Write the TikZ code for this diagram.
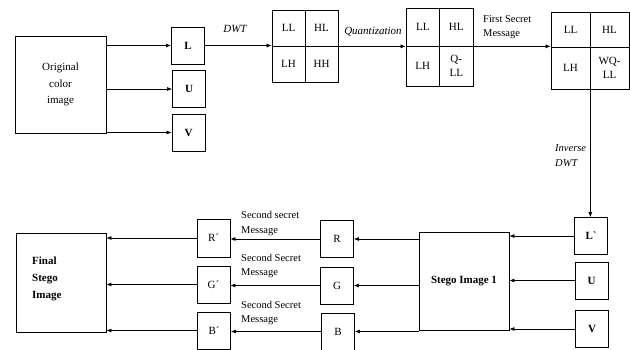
\documentclass[tikz,border=0pt]{standalone}
\usepackage{fontspec}
\setmainfont{Liberation Serif}
\usepackage{tikz}
\usetikzlibrary{positioning,arrows.meta,calc}

\begin{document}
\begin{tikzpicture}[x=1pt, y=-1pt,
  every node/.style={font=\fontsize{11}{16.5}\selectfont},
  box/.style  ={draw, line width=0.9pt, minimum width=#1, inner sep=0pt, align=center},
  chan/.style ={draw, line width=0.9pt, minimum width=33pt, minimum height=37pt,
                inner sep=0pt, font=\fontsize{11}{13}\selectfont\bfseries},
  rgb/.style  ={draw, line width=0.9pt, minimum width=33pt, minimum height=37pt,
                inner sep=0pt},
  cell/.style 2 args={draw, line width=0.7pt, minimum width=#1, minimum height=#2,
                inner sep=0pt, align=center, font=\fontsize{11}{14}\selectfont},
  lbl/.style  ={font=\fontsize{10.5}{14.5}\selectfont, align=left, inner sep=0pt},
  arr/.style  ={-{Latex[length=5pt,width=4pt]}, line width=0.6pt}]

\useasboundingbox (0,0) rectangle (630,350);

%% Top row: source image and its channels
\node[box=91pt, minimum height=97pt] (orig) at (60.5,84.5) {Original\\color\\image};
\node[chan] (Lc) at (188,45.5) {L};
\node[chan] (Uc) at (189,89)   {U};
\node[chan] (Vc) at (188.5,132.5) {V};

%% DWT subbands
\node[cell={33pt}{36pt}] (g1a) at (288.5,28) {LL};
\node[cell={33pt}{36pt}] (g1b) at (321.5,28) {HL};
\node[cell={33pt}{36pt}] (g1c) at (288.5,64) {LH};
\node[cell={33pt}{36pt}] (g1d) at (321.5,64) {HH};

%% Quantized subbands
\node[cell={33.5pt}{38pt}] (g2a) at (422.75,27) {LL};
\node[cell={33.5pt}{38pt}] (g2b) at (456.25,27) {HL};
\node[cell={33.5pt}{40pt}] (g2c) at (422.75,66) {LH};
\node[cell={33.5pt}{40pt}] (g2d) at (456.25,66) {Q-\\LL};

%% Watermarked subbands
\node[cell={39pt}{35pt}] (g3a) at (570.5,29.5) {LL};
\node[cell={39pt}{35pt}] (g3b) at (609.5,29.5) {HL};
\node[cell={39pt}{42pt}] (g3c) at (570.5,68)   {LH};
\node[cell={39pt}{42pt}] (g3d) at (609.5,68)   {WQ-\\LL};

%% Labels along the top
\node[lbl, font=\fontsize{11}{14}\selectfont\itshape] (dwt)  at (235,29) {DWT};
\node[lbl, font=\fontsize{11}{14}\selectfont\itshape] (quant) at (373,32) {Quantization};
\node[lbl, anchor=west] (first) at (483,27) {First Secret\\Message};
\node[lbl, anchor=west, font=\fontsize{10.5}{15}\selectfont\itshape] (idwt) at (555,155.5) {Inverse\\DWT};

%% Bottom row: reconstructed channels
\node[chan] (Lp) at (591,236)   {L\textasciigrave};
\node[chan] (Up) at (591.5,280.5) {U};
\node[chan] (Vp) at (592,329)   {V};
\node[box=90pt, minimum height=98pt, font=\fontsize{11}{14}\selectfont\bfseries] (stego) at (464,281) {Stego Image 1};

\node[rgb] (Rc) at (337,239)   {R};
\node[rgb] (Gc) at (337,285.5) {G};
\node[rgb] (Bc) at (338,331.5) {B};

\node[rgb, minimum height=38pt] (Rp) at (213.5,238)   {R´};
\node[rgb] (Gp) at (213.5,284.5) {G´};
\node[rgb] (Bp) at (214,330.5)   {B´};

\node[box=90pt, minimum height=99pt] (final) at (61,282.5) {};
\node[lbl, anchor=west, font=\fontsize{11}{17}\selectfont\bfseries] (finaltxt) at (32,279) {Final\\Stego\\Image};

%% Second message labels
\node[lbl, anchor=west] (msg1) at (241,223.5) {Second secret\\Message};
\node[lbl, anchor=west] (msg2) at (241,266)   {Second Secret\\Message};
\node[lbl, anchor=west] (msg3) at (241,313)   {Second Secret\\Message};

%% Arrows: image -> channels
\draw[arr] (orig.east |- Lc.west) -- (Lc.west);
\draw[arr] (orig.east |- Uc.west) -- (Uc.west);
\draw[arr] (orig.east |- Vc.west) -- (Vc.west);

%% Arrows along the top row
\draw[arr] (Lc.east) -- (Lc.east -| g1a.west);
\draw[arr] (g1b.south east) -- (g1b.south east -| g2a.west);
\draw[arr] (g2b.south east) -- (g2b.south east -| g3a.west);

%% Inverse DWT down to L'
\draw[arr] (g3c.south east) -- (g3c.south east |- Lp.north);

%% Channels -> stego image
\draw[arr] (Lp.west) -- (Lp.west -| stego.east);
\draw[arr] (Up.west) -- (Up.west -| stego.east);
\draw[arr] (Vp.west) -- (Vp.west -| stego.east);

%% Stego image -> R, G, B
\draw[arr] (stego.west |- Rc.east) -- (Rc.east);
\draw[arr] (stego.west |- Gc.east) -- (Gc.east);
\draw[arr] (stego.west |- Bc.east) -- (Bc.east);

%% R, G, B -> primed channels
\draw[arr] (Rc.west) -- (Rc.west -| Rp.east);
\draw[arr] (Gc.west) -- (Gc.west -| Gp.east);
\draw[arr] (Bc.west) -- (Bc.west -| Bp.east);

%% Primed channels -> final image
\draw[arr] (Rp.west) -- (Rp.west -| final.east);
\draw[arr] (Gp.west) -- (Gp.west -| final.east);
\draw[arr] (Bp.west) -- (Bp.west -| final.east);
\end{tikzpicture}
\end{document}
